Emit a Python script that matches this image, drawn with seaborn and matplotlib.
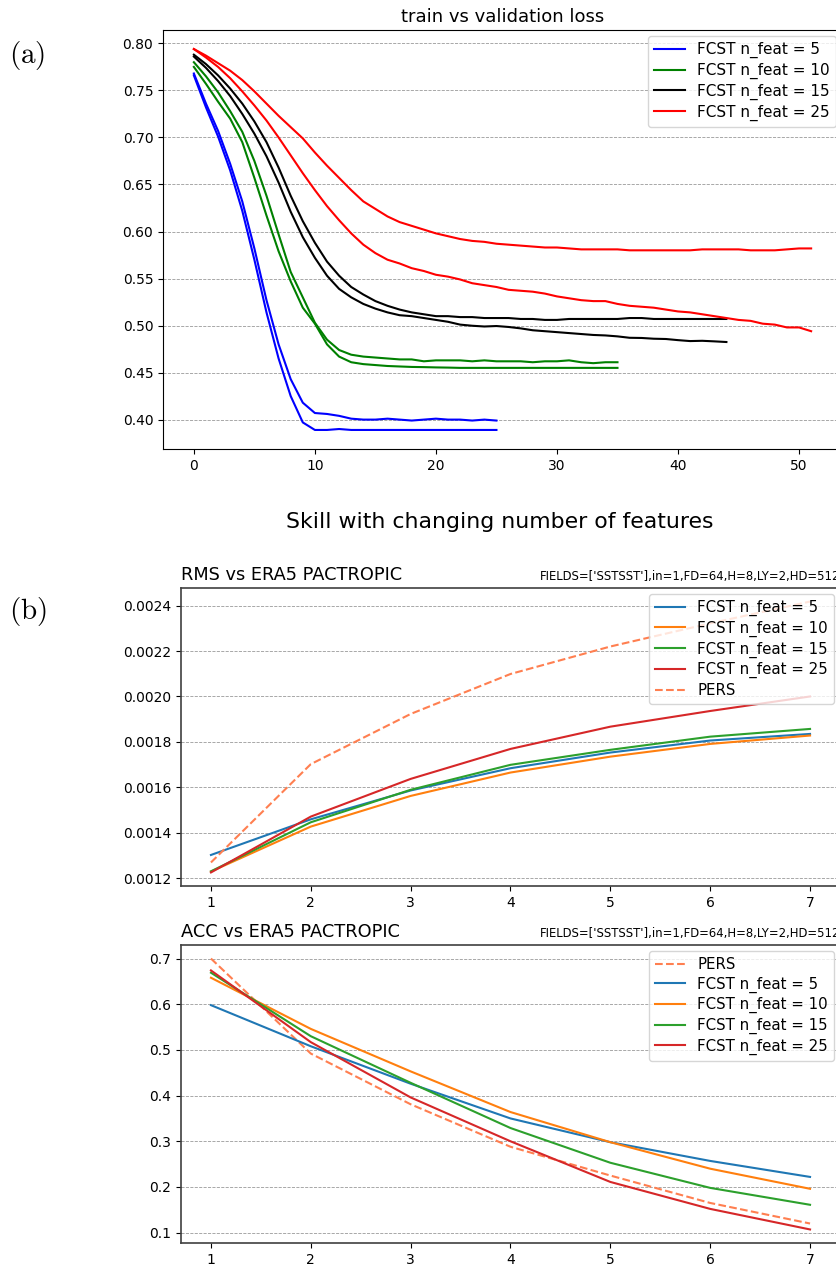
import numpy as np
import pandas as pd
import matplotlib
matplotlib.use('Agg')
import matplotlib.pyplot as plt
import seaborn as sns

plt.rcParams['mathtext.fontset'] = 'cm'

# ---- panel (a): train / validation loss per epoch ----
feat_labels = ['FCST n_feat = 5', 'FCST n_feat = 10', 'FCST n_feat = 15', 'FCST n_feat = 25']
loss_colors = ['blue', 'green', 'black', 'red']

val_5 = [0.768, 0.736, 0.707, 0.672, 0.632, 0.582, 0.527, 0.480, 0.443, 0.418, 0.407, 0.406, 0.404,
         0.401, 0.400, 0.400, 0.401, 0.400, 0.399, 0.400, 0.401, 0.400, 0.400, 0.399, 0.400, 0.399]
train_5 = [0.766, 0.732, 0.701, 0.665, 0.622, 0.570, 0.514, 0.465, 0.425, 0.397, 0.389, 0.389, 0.390,
           0.389, 0.389, 0.389, 0.389, 0.389, 0.389, 0.389, 0.389, 0.389, 0.389, 0.389, 0.389, 0.389]

val_10 = [0.780, 0.765, 0.748, 0.728, 0.706, 0.675, 0.638, 0.597, 0.557, 0.530, 0.503, 0.485, 0.474,
          0.469, 0.467, 0.466, 0.465, 0.464, 0.464, 0.462, 0.463, 0.463, 0.463, 0.462, 0.463, 0.462,
          0.462, 0.462, 0.461, 0.462, 0.462, 0.463, 0.461, 0.460, 0.461, 0.461]
train_10 = [0.775, 0.757, 0.738, 0.720, 0.695, 0.657, 0.617, 0.579, 0.547, 0.519, 0.502, 0.480, 0.467,
            0.461, 0.459, 0.458, 0.457, 0.4565, 0.456, 0.4558, 0.4555, 0.4553, 0.455, 0.455, 0.455,
            0.455, 0.455, 0.455, 0.455, 0.455, 0.455, 0.455, 0.455, 0.455, 0.455, 0.455]

val_15 = [0.788, 0.778, 0.766, 0.752, 0.736, 0.717, 0.695, 0.668, 0.638, 0.611, 0.588, 0.568, 0.553,
          0.541, 0.533, 0.526, 0.521, 0.517, 0.514, 0.512, 0.510, 0.510, 0.509, 0.509, 0.508, 0.508,
          0.508, 0.507, 0.507, 0.506, 0.506, 0.507, 0.507, 0.507, 0.507, 0.507, 0.508, 0.508, 0.507,
          0.507, 0.507, 0.507, 0.507, 0.507, 0.507]
train_15 = [0.786, 0.774, 0.760, 0.744, 0.725, 0.704, 0.680, 0.652, 0.621, 0.594, 0.572, 0.553, 0.539,
            0.530, 0.523, 0.518, 0.514, 0.511, 0.510, 0.508, 0.506, 0.504, 0.501, 0.4998, 0.499, 0.4995,
            0.4985, 0.497, 0.495, 0.494, 0.493, 0.492, 0.491, 0.490, 0.4895, 0.4885, 0.487, 0.4868,
            0.486, 0.4857, 0.4845, 0.4835, 0.4838, 0.4832, 0.4825]

val_25 = [0.794, 0.787, 0.779, 0.771, 0.761, 0.749, 0.736, 0.723, 0.711, 0.699, 0.684, 0.670, 0.657,
          0.644, 0.632, 0.624, 0.616, 0.610, 0.606, 0.602, 0.598, 0.595, 0.592, 0.590, 0.589, 0.587,
          0.586, 0.585, 0.584, 0.583, 0.583, 0.582, 0.581, 0.581, 0.581, 0.581, 0.580, 0.580, 0.580,
          0.580, 0.580, 0.580, 0.581, 0.581, 0.581, 0.581, 0.580, 0.580, 0.580, 0.581, 0.582, 0.582]
train_25 = [0.794, 0.785, 0.775, 0.763, 0.749, 0.734, 0.718, 0.700, 0.681, 0.662, 0.644, 0.627, 0.612,
            0.598, 0.586, 0.577, 0.570, 0.566, 0.561, 0.558, 0.554, 0.552, 0.549, 0.545, 0.543, 0.541,
            0.538, 0.537, 0.536, 0.534, 0.531, 0.529, 0.527, 0.526, 0.526, 0.523, 0.521, 0.520, 0.519,
            0.517, 0.515, 0.514, 0.512, 0.510, 0.508, 0.506, 0.505, 0.502, 0.501, 0.498, 0.498, 0.494]

val_curves = [val_5, val_10, val_15, val_25]
train_curves = [train_5, train_10, train_15, train_25]

# ---- panel (b): skill vs lead time ----
lead = [1, 2, 3, 4, 5, 6, 7]
skill_colors = ['tab:blue', 'tab:orange', 'tab:green', 'tab:red']

rms_fcst = [
    [0.001302, 0.001459, 0.001586, 0.001684, 0.001753, 0.001806, 0.001835],
    [0.001229, 0.001427, 0.001562, 0.001665, 0.001735, 0.001791, 0.001828],
    [0.001230, 0.001446, 0.001589, 0.001699, 0.001765, 0.001823, 0.001857],
    [0.001225, 0.001471, 0.001637, 0.001769, 0.001867, 0.001936, 0.002000],
]
rms_pers = [0.001269, 0.001702, 0.001923, 0.002099, 0.002220, 0.002322, 0.002418]

acc_fcst = [
    [0.598, 0.508, 0.426, 0.350, 0.298, 0.257, 0.222],
    [0.658, 0.546, 0.453, 0.364, 0.298, 0.240, 0.196],
    [0.669, 0.530, 0.428, 0.329, 0.253, 0.198, 0.161],
    [0.674, 0.517, 0.396, 0.300, 0.211, 0.152, 0.107],
]
acc_pers = [0.700, 0.492, 0.381, 0.288, 0.225, 0.165, 0.120]

W, H = 837, 1268
fig = plt.figure(figsize=(W / 100, H / 100), dpi=100)


def rect(left, right, top, bottom):
    return [left / W, 1 - bottom / H, (right - left) / W, (bottom - top) / H]


def ygrid(ax):
    ax.yaxis.grid(True, linestyle='--', color='gray', linewidth=0.6, alpha=0.8)
    ax.set_axisbelow(True)


# loss panel
ax0 = fig.add_axes(rect(163, 842, 30, 449))
for lab, col, va, tr in zip(feat_labels, loss_colors, val_curves, train_curves):
    sns.lineplot(x=np.arange(len(va)), y=va, ax=ax0, color=col, linewidth=1.5, label=lab)
    sns.lineplot(x=np.arange(len(tr)), y=tr, ax=ax0, color=col, linewidth=1.5)
ax0.set_title('train vs validation loss', fontsize=13)
ax0.set_yticks([0.40, 0.45, 0.50, 0.55, 0.60, 0.65, 0.70, 0.75, 0.80])
ax0.set_yticklabels([f'{v:.2f}' for v in ax0.get_yticks()])
ygrid(ax0)
ax0.legend(loc='upper right', fontsize=11, labelspacing=0.3, borderaxespad=0.4)

fig.text(500 / W, 1 - 522 / H, 'Skill with changing number of features', ha='center', va='center', fontsize=15.8)

params = "FIELDS=['SSTSST'],in=1,FD=64,H=8,LY=2,HD=512"

# RMS panel
ax1 = fig.add_axes(rect(181, 840, 588, 886))
for lab, col, vals in zip(feat_labels, skill_colors, rms_fcst):
    sns.lineplot(x=lead, y=vals, ax=ax1, color=col, linewidth=1.5, label=lab)
sns.lineplot(x=lead, y=rms_pers, ax=ax1, color='coral', linewidth=1.5, linestyle='--', label='PERS')
ax1.set_title('RMS vs ERA5 PACTROPIC', loc='left', fontsize=12.8)
ax1.set_title(params, loc='right', fontsize=8.4)
ax1.set_yticks([0.0012, 0.0014, 0.0016, 0.0018, 0.0020, 0.0022, 0.0024])
ax1.set_yticklabels([f'{v:.4f}' for v in ax1.get_yticks()])
ygrid(ax1)
ax1.legend(loc='upper right', fontsize=10.8, labelspacing=0.3, borderaxespad=0.4)

# ACC panel
ax2 = fig.add_axes(rect(181, 840, 945, 1243))
sns.lineplot(x=lead, y=acc_pers, ax=ax2, color='coral', linewidth=1.5, linestyle='--', label='PERS')
for lab, col, vals in zip(feat_labels, skill_colors, acc_fcst):
    sns.lineplot(x=lead, y=vals, ax=ax2, color=col, linewidth=1.5, label=lab)
ax2.set_title('ACC vs ERA5 PACTROPIC', loc='left', fontsize=12.8)
ax2.set_title(params, loc='right', fontsize=8.4)
ax2.set_yticks([0.1, 0.2, 0.3, 0.4, 0.5, 0.6, 0.7])
ax2.set_yticklabels([f'{v:.1f}' for v in ax2.get_yticks()])
ygrid(ax2)
ax2.legend(loc='upper right', fontsize=10.8, labelspacing=0.3, borderaxespad=0.4)

for ax in (ax1, ax2):
    for sp in ax.spines.values():
        sp.set_linewidth(1.2)
        sp.set_color('0.25')

fig.text(9 / W, 1 - 55 / H, r'$\mathrm{(a)}$', fontsize=21, va='center', ha='left')
fig.text(9 / W, 1 - 612 / H, r'$\mathrm{(b)}$', fontsize=21, va='center', ha='left')

fig.savefig('out.png', dpi=100)
